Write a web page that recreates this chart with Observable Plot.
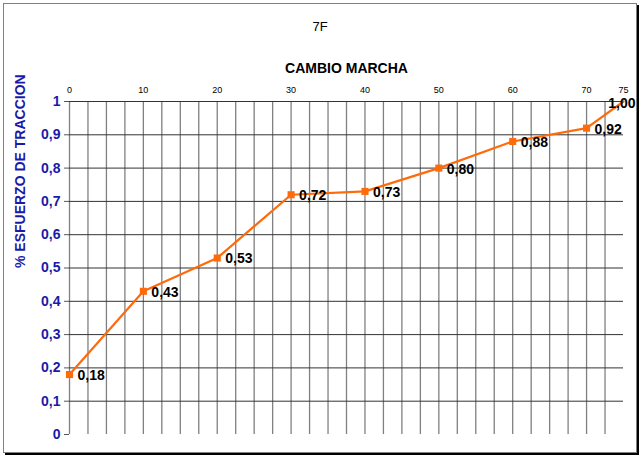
<!DOCTYPE html>
<html>
<head>
<meta charset="utf-8">
<script src="https://cdn.jsdelivr.net/npm/d3@7"></script>
<script src="https://cdn.jsdelivr.net/npm/@observablehq/plot@0.6"></script>
<style>
  body { margin: 0; background: #fff; font-family: Arial, "Liberation Sans", sans-serif; }
  #wrap { position: relative; width: 640px; height: 456px; }
  #frame { position: absolute; left: 3px; top: 3px; width: 632px; height: 448px;
           border: 1px solid #808080; box-shadow: 2px 2px 0 #000; }
  #title { position: absolute; left: 0; top: 19px; width: 640px; text-align: center;
           font-size: 13px; color: #000; }
  #chart { position: absolute; left: 0; top: 0; }
</style>
</head>
<body>
<div id="wrap">
  <div id="frame"></div>
  <div id="title">7F</div>
  <div id="chart"></div>
</div>
<script>
const gear = [0, 10, 20, 30, 40, 50, 60, 70, 75];
const effort = [0.18, 0.43, 0.53, 0.72, 0.73, 0.80, 0.88, 0.92, 1.00];
const xTicks = [0, 10, 20, 30, 40, 50, 60, 70, 75];
const yTicks = [0, 0.1, 0.2, 0.3, 0.4, 0.5, 0.6, 0.7, 0.8, 0.9, 1];
const vGrid = d3.range(0, 75, 2.5);
const hGrid = [0.1, 0.2, 0.3, 0.4, 0.5, 0.6, 0.7, 0.8, 0.9, 1];

const data = gear.map((g, i) => ({x: g, y: effort[i]}));
const fmt = v => v.toFixed(2).replace(".", ",");
const yFmt = v => v === 0 ? "0" : v === 1 ? "1" : v.toFixed(1).replace(".", ",");
const blue = "#1a1aa8";
const orange = "#ff6a0a";

const chart = Plot.plot({
  width: 640,
  height: 456,
  marginLeft: 69,
  marginRight: 17,
  marginTop: 101,
  marginBottom: 22,
  style: {fontFamily: "Arial, 'Liberation Sans', sans-serif", background: "transparent", overflow: "visible"},
  x: {domain: [0, 75]},
  y: {domain: [0, 1]},
  marks: [
    Plot.ruleX(vGrid, {stroke: "#808080", strokeWidth: 1.3}),
    Plot.ruleY(hGrid, {stroke: "#333", strokeWidth: 1}),
    Plot.axisX({anchor: "top", ticks: xTicks, tickSize: 0, tickPadding: 9, fontSize: 9, label: null, tickFormat: d => String(d)}),
    Plot.axisY({ticks: yTicks, tickSize: 5, tickPadding: 4, tickFormat: yFmt, fontSize: 14, fontWeight: "bold", fill: blue, stroke: "#555", label: null}),
    Plot.text(["CAMBIO MARCHA"], {frameAnchor: "top", dy: -38, fontSize: 14, fontWeight: "bold", fill: "#000"}),
    Plot.text(["% ESFUERZO DE TRACCION"], {frameAnchor: "left", dx: -49, rotate: -90, fontSize: 14, fontWeight: "bold", fill: blue}),
    Plot.line(data, {x: "x", y: "y", stroke: orange, strokeWidth: 2.2}),
    Plot.dot(data.filter(d => d.x < 75), {x: "x", y: "y", symbol: "square", r: 4, fill: orange, stroke: null}),
    Plot.text(data.filter(d => d.x < 75), {x: "x", y: "y", text: d => fmt(d.y), textAnchor: "start", dx: 8, dy: 1, fontSize: 14, fontWeight: "bold", fill: "#000"}),
    Plot.text(data.filter(d => d.x === 75), {x: "x", y: "y", text: d => fmt(d.y), textAnchor: "end", dx: 12, dy: 2, fontSize: 14, fontWeight: "bold", fill: "#000"})
  ]
});
document.getElementById("chart").appendChild(chart);
</script>
</body>
</html>
